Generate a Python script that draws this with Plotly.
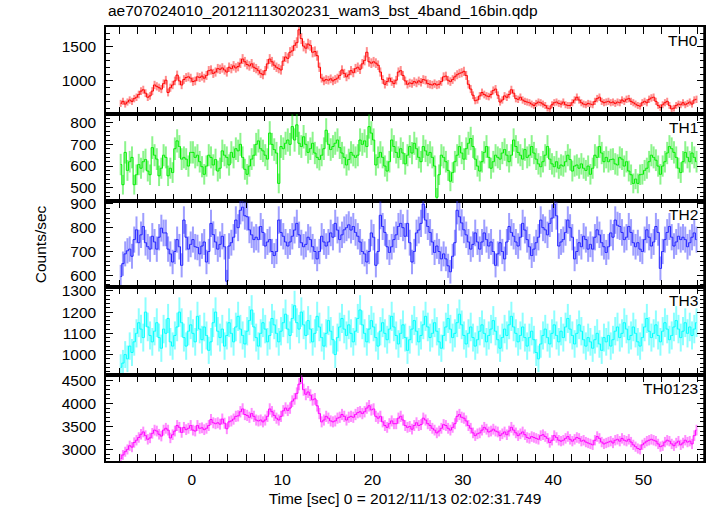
import numpy as np
import plotly.graph_objects as go
from plotly.subplots import make_subplots

# ---------------- data (0.25 s bins starting at t = -8 s) ----------------
bin_width = 0.25
t_start = -8.0

th0 = [670, 700, 660, 690, 720, 700, 740, 760, 800, 850, 870, 820, 760, 780, 850, 940,
       920, 900, 880, 960, 1010, 830, 900, 940, 1000, 1085, 1000, 940, 1020, 1050, 1060, 1040,
       990, 1000, 1060, 1050, 1070, 1040, 1080, 1150, 1160, 1110, 1130, 1180, 1170, 1190, 1160, 1130,
       1200, 1180, 1220, 1190, 1210, 1260, 1320, 1280, 1240, 1220, 1250, 1200, 1180, 1150, 1110, 1090,
       1150, 1250, 1320, 1280, 1230, 1200, 1180, 1160, 1290, 1350, 1330, 1420, 1440, 1520, 1560, 1750,
       1620, 1510, 1480, 1540, 1520, 1420, 1430, 1370, 1200, 1040, 1000, 1020, 1010, 1030, 1000, 1020,
       1040, 1080, 1160, 1110, 1060, 1090, 1150, 1120, 1180, 1200, 1170, 1250, 1300, 1420, 1280, 1260,
       1280, 1260, 1230, 1130, 1020, 950, 990, 1040, 990, 960, 1010, 1130, 1150, 1080, 1000, 950,
       970, 960, 990, 970, 1000, 980, 1020, 1010, 960, 950, 940, 960, 940, 950, 990, 1060,
       1070, 1010, 990, 1020, 1060, 1090, 1110, 1120, 1140, 1080, 950, 880, 790, 710, 720, 780,
       830, 800, 780, 770, 800, 860, 880, 790, 690, 720, 780, 760, 800, 870, 820, 740,
       730, 760, 720, 700, 690, 680, 660, 640, 670, 690, 680, 660, 640, 600, 590, 650,
       680, 690, 670, 660, 690, 650, 640, 640, 680, 720, 760, 720, 680, 660, 650, 670,
       660, 650, 700, 740, 760, 700, 680, 690, 700, 680, 690, 670, 690, 680, 720, 700,
       730, 740, 700, 680, 660, 640, 630, 680, 700, 680, 730, 750, 760, 700, 640, 610,
       650, 680, 700, 640, 590, 600, 640, 660, 650, 680, 650, 670, 690, 660, 720, 730]

th1 = [607, 514, 663, 580, 620, 640, 514, 560, 607, 590, 620, 630, 577, 560, 685, 650,
       632, 555, 590, 650, 640, 555, 590, 570, 680, 716, 690, 632, 640, 632, 600, 663,
       663, 640, 650, 620, 597, 562, 600, 650, 640, 605, 630, 577, 590, 670, 650, 640,
       605, 663, 640, 680, 670, 700, 640, 585, 562, 600, 632, 650, 700, 716, 680, 670,
       650, 632, 752, 700, 676, 660, 520, 690, 680, 705, 720, 700, 782, 720, 790, 705,
       690, 735, 700, 663, 680, 705, 660, 640, 630, 650, 680, 765, 700, 676, 690, 705,
       720, 685, 660, 640, 605, 630, 663, 650, 640, 650, 720, 700, 716, 690, 782, 752,
       720, 605, 640, 663, 640, 600, 577, 620, 720, 690, 663, 640, 680, 660, 610, 650,
       690, 660, 705, 680, 640, 620, 690, 670, 650, 663, 640, 600, 456, 560, 650, 640,
       620, 580, 530, 570, 620, 650, 690, 660, 632, 680, 705, 727, 690, 632, 600, 577,
       620, 663, 690, 640, 590, 620, 650, 640, 632, 660, 676, 650, 620, 650, 720, 690,
       663, 650, 632, 676, 640, 650, 690, 660, 632, 610, 597, 620, 650, 690, 632, 610,
       597, 620, 590, 605, 600, 620, 650, 630, 577, 600, 605, 590, 610, 590, 580, 600,
       562, 590, 650, 640, 690, 660, 620, 640, 620, 630, 632, 610, 605, 640, 632, 600,
       620, 577, 560, 520, 540, 520, 560, 562, 580, 590, 620, 650, 640, 627, 600, 562,
       600, 620, 660, 690, 680, 663, 640, 590, 570, 620, 663, 640, 620, 660, 640, 620]

th2 = [595, 649, 690, 703, 710, 680, 750, 791, 737, 770, 805, 737, 720, 710, 764, 740,
       710, 760, 798, 778, 778, 710, 690, 656, 700, 750, 720, 642, 832, 760, 710, 730,
       750, 720, 717, 690, 723, 740, 656, 700, 818, 771, 740, 710, 730, 764, 720, 575,
       723, 737, 760, 832, 800, 873, 886, 850, 846, 791, 770, 750, 760, 750, 805, 780,
       723, 740, 750, 700, 683, 700, 832, 780, 764, 740, 723, 740, 764, 790, 818, 770,
       737, 720, 730, 760, 750, 720, 700, 669, 700, 764, 740, 723, 740, 778, 760, 818,
       790, 750, 770, 791, 800, 812, 790, 805, 780, 764, 740, 700, 690, 656, 700, 778,
       760, 642, 700, 852, 805, 780, 720, 696, 720, 750, 770, 805, 818, 800, 764, 818,
       737, 656, 700, 778, 790, 818, 899, 832, 805, 780, 740, 696, 723, 700, 669, 690,
       669, 640, 615, 680, 737, 873, 846, 820, 791, 770, 740, 710, 730, 778, 740, 710,
       740, 778, 750, 723, 740, 700, 642, 690, 737, 700, 669, 740, 805, 780, 764, 740,
       723, 760, 818, 790, 750, 720, 683, 710, 737, 760, 832, 800, 791, 770, 818, 840,
       899, 850, 723, 740, 750, 780, 832, 800, 760, 669, 700, 737, 720, 764, 750, 710,
       730, 710, 760, 791, 770, 737, 720, 696, 720, 778, 760, 832, 810, 805, 780, 750,
       760, 805, 780, 737, 720, 737, 710, 700, 750, 791, 760, 723, 740, 805, 780, 629,
       700, 750, 780, 805, 760, 723, 740, 764, 750, 760, 750, 720, 737, 760, 778, 750]

th3 = [940, 960, 1000, 980, 1040, 1010, 1060, 1100, 1150, 1120, 1080, 1200, 1130, 1090, 1060, 1110,
       1150, 1080, 1030, 1120, 1100, 1170, 1060, 1040, 1090, 1130, 1200, 1150, 1080, 1040, 1110, 1140,
       1100, 1060, 1180, 1120, 1070, 1130, 1090, 1020, 1060, 1150, 1200, 1110, 1080, 1120, 1040, 1090,
       1150, 1100, 1060, 1130, 1180, 1120, 1090, 1050, 1110, 1160, 1210, 1130, 1080, 1040, 1100, 1150,
       1120, 1060, 1090, 1170, 1140, 1100, 1060, 1110, 1150, 1190, 1120, 1090, 1170, 1230, 1150, 1120,
       1200, 1140, 1090, 1160, 1120, 1060, 1100, 1180, 1130, 1080, 1040, 1100, 1160, 1110, 1070, 1000,
       1080, 1130, 1170, 1120, 1090, 1140, 1100, 1060, 1110, 1170, 1210, 1140, 1100, 1060, 1120, 1160,
       1130, 1080, 1040, 1110, 1150, 1100, 1070, 1120, 1180, 1130, 1090, 1050, 1100, 1140, 1080, 1020,
       1070, 1120, 1160, 1110, 1060, 1090, 1140, 1180, 1130, 1080, 1100, 1150, 1110, 1060, 1030, 1090,
       1130, 1170, 1120, 1080, 1100, 1150, 1190, 1140, 1090, 1050, 1100, 1130, 1080, 1040, 1070, 1110,
       1140, 1100, 1060, 1090, 1120, 1160, 1110, 1070, 1030, 1080, 1120, 1090, 1140, 1180, 1130, 1100,
       1060, 1090, 1130, 1080, 1040, 1080, 1110, 1070, 1010, 980, 1050, 1090, 1120, 1080, 1050, 1100,
       1140, 1090, 1060, 1110, 1080, 1130, 1170, 1120, 1090, 1050, 1100, 1140, 1110, 1070, 1040, 1080,
       1060, 1030, 1070, 1100, 1050, 1020, 1080, 1060, 1090, 1040, 1070, 1110, 1130, 1080, 1100, 1150,
       1120, 1070, 1090, 1130, 1100, 1060, 1040, 1080, 1130, 1170, 1110, 1080, 1100, 1140, 1090, 1060,
       1110, 1150, 1120, 1070, 1090, 1130, 1160, 1120, 1080, 1110, 1150, 1100, 1130, 1090, 1120, 1150]

th0123 = [2800, 2880, 2950, 3000, 3080, 3050, 3150, 3200, 3260, 3330, 3380, 3300, 3220, 3250, 3350, 3420,
          3400, 3330, 3290, 3420, 3460, 3420, 3250, 3320, 3400, 3520, 3480, 3370, 3480, 3430, 3460, 3520,
          3420, 3400, 3520, 3460, 3470, 3430, 3460, 3520, 3650, 3580, 3560, 3580, 3550, 3660, 3570, 3450,
          3600, 3620, 3660, 3720, 3730, 3820, 3880, 3760, 3740, 3700, 3780, 3720, 3640, 3620, 3640, 3600,
          3640, 3720, 3880, 3820, 3740, 3680, 3640, 3720, 3840, 3900, 3850, 3900, 4050, 4100, 4220, 4420,
          4560, 4300, 4200, 4250, 4180, 4080, 4100, 3950, 3780, 3600, 3640, 3720, 3680, 3620, 3600, 3620,
          3680, 3700, 3760, 3720, 3640, 3700, 3720, 3700, 3760, 3800, 3820, 3780, 3820, 3900, 3950, 3860,
          3880, 3720, 3680, 3720, 3600, 3520, 3480, 3560, 3620, 3560, 3560, 3680, 3720, 3640, 3520, 3480,
          3500, 3440, 3520, 3580, 3520, 3540, 3680, 3640, 3560, 3520, 3460, 3420, 3360, 3400, 3460, 3540,
          3520, 3460, 3420, 3480, 3560, 3720, 3760, 3700, 3680, 3620, 3520, 3460, 3360, 3300, 3340, 3360,
          3420, 3480, 3440, 3380, 3400, 3440, 3400, 3380, 3300, 3340, 3380, 3320, 3400, 3480, 3420, 3360,
          3300, 3340, 3380, 3320, 3260, 3240, 3280, 3260, 3240, 3220, 3300, 3320, 3280, 3240, 3150, 3200,
          3300, 3260, 3200, 3180, 3200, 3240, 3280, 3220, 3180, 3220, 3260, 3240, 3180, 3200, 3160, 3140,
          3120, 3100, 3200, 3280, 3240, 3160, 3120, 3140, 3160, 3180, 3140, 3200, 3220, 3180, 3240, 3200,
          3180, 3220, 3160, 3100, 3060, 3020, 3000, 3100, 3140, 3180, 3200, 3220, 3200, 3180, 3120, 3060,
          3080, 3160, 3200, 3180, 3120, 3080, 3140, 3180, 3100, 3140, 3200, 3160, 3180, 3120, 3300, 3420]

band_names = ["TH0", "TH1", "TH2", "TH3", "TH0123"]
series = [th0, th1, th2, th3, th0123]

y_ranges = [[515, 1790], [439, 840], [551, 912], [904, 1318], [2748, 4620]]
y_dticks = [500, 100, 100, 100, 500]
y_minor = [100, 20, 20, 20, 100]
line_colors = ["#ff0000", "#00ee00", "#2222ff", "#00ffff", "#ff00ff"]
err_colors = ["rgba(255,0,0,0.45)", "rgba(0,230,0,0.45)", "rgba(40,40,255,0.45)",
              "rgba(0,255,255,0.45)", "rgba(255,0,255,0.45)"]

FONT = "Liberation Sans, Arial, Helvetica, sans-serif"
X_RANGE = [-9.5, 56.7]

fig = make_subplots(rows=5, cols=1, shared_xaxes=True, vertical_spacing=0)

for i, (name, vals) in enumerate(zip(band_names, series)):
    v = np.array(vals, dtype=float)
    t = t_start + bin_width * (np.arange(len(v)) + 0.5)
    err = np.sqrt(v / bin_width)
    fig.add_trace(go.Scatter(
        x=t, y=v, mode="lines", line=dict(color=line_colors[i], width=1, shape="hvh"),
        error_y=dict(type="data", array=err, visible=True, color=err_colors[i],
                     thickness=2, width=0),
        showlegend=False, hoverinfo="skip"), row=i + 1, col=1)

domains = [[0.7996, 1.0], [0.5991, 0.7996], [0.4009, 0.5991], [0.1982, 0.4009], [0.0, 0.1982]]

axis_common = dict(showline=True, linecolor="black", linewidth=1.5, mirror="allticks",
                   ticks="inside", ticklen=7, tickwidth=1.2, tickcolor="black",
                   showgrid=False, zeroline=False,
                   tickfont=dict(family=FONT, size=15.5, color="black"))

for i in range(5):
    yname = "yaxis" if i == 0 else f"yaxis{i + 1}"
    fig.layout[yname].update(
        domain=domains[i], range=y_ranges[i], dtick=y_dticks[i], tick0=0,
        ticklabelstandoff=5,
        minor=dict(ticks="inside", dtick=y_minor[i], ticklen=4, tickcolor="black", tickwidth=1),
        **axis_common)
    xname = "xaxis" if i == 0 else f"xaxis{i + 1}"
    fig.layout[xname].update(
        range=X_RANGE, dtick=10, tick0=0, ticklabelstandoff=4,
        minor=dict(ticks="inside", dtick=2, ticklen=4, tickcolor="black", tickwidth=1),
        showticklabels=(i == 4), **axis_common)

# right-hand y axes (explicit, so the right frame and its ticks are always drawn)
for i in range(5):
    ridx = 6 + i
    base_y = "y" if i == 0 else f"y{i + 1}"
    base_x = "x" if i == 0 else f"x{i + 1}"
    fig.layout[f"yaxis{ridx}"] = dict(
        overlaying=base_y, anchor=base_x, side="right", domain=domains[i],
        range=y_ranges[i], dtick=y_dticks[i], tick0=0, showticklabels=False,
        showline=True, linecolor="black", linewidth=1.5, ticks="inside", ticklen=7,
        tickwidth=1.2, tickcolor="black", showgrid=False, zeroline=False,
        minor=dict(ticks="inside", dtick=y_minor[i], ticklen=4, tickcolor="black", tickwidth=1))
    fig.add_trace(go.Scatter(x=[], y=[], xaxis=base_x, yaxis=f"y{ridx}",
                             showlegend=False, hoverinfo="skip"))

fig.layout.xaxis5.title = dict(text="Time [sec] 0 = 2012/11/13 02:02:31.749",
                               font=dict(family=FONT, size=15.5, color="black"), standoff=6)

annotations = []
for i, name in enumerate(band_names):
    annotations.append(dict(text=name, xref="paper", yref="paper", x=0.993, y=domains[i][1] - 0.008,
                            xanchor="right", yanchor="top", showarrow=False,
                            font=dict(family=FONT, size=15.5, color="black")))
annotations.append(dict(text="Counts/sec", xref="paper", yref="paper", x=-0.11, y=0.5,
                        textangle=-90, xanchor="center", yanchor="middle", showarrow=False,
                        font=dict(family=FONT, size=15.5, color="black")))
annotations.append(dict(text="ae707024010_20121113020231_wam3_bst_4band_16bin.qdp",
                        xref="paper", yref="paper", x=0.0, y=1.0, yshift=6,
                        xanchor="left", yanchor="bottom", showarrow=False,
                        font=dict(family=FONT, size=15.5, color="black")))

# frame border on the right-hand side of the stacked panels
frame_shapes = [dict(type="line", xref="paper", yref="paper", x0=1, x1=1, y0=0, y1=1,
                     line=dict(color="black", width=1.5), layer="above")]

fig.update_layout(width=717, height=516, margin=dict(l=106, r=11, t=27, b=40),
                  paper_bgcolor="white", plot_bgcolor="white", shapes=frame_shapes,
                  annotations=annotations, font=dict(family=FONT, size=15.5, color="black"))

fig.write_html("out.html", config={"displayModeBar": False},
               post_script="document.body.style.margin='0';document.body.style.overflow='hidden';")
